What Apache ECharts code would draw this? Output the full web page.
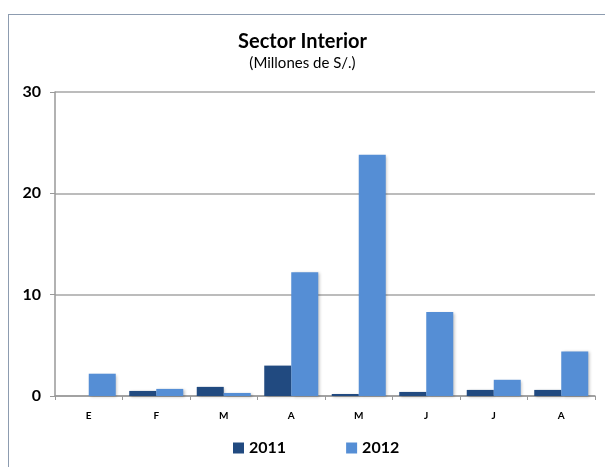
<!DOCTYPE html>
<html><head><meta charset="utf-8">
<script src="https://cdn.jsdelivr.net/npm/echarts@6/dist/echarts.min.js"></script>
<style>
html,body{margin:0;padding:0;background:#fff;}
#frame{position:absolute;left:8px;top:14px;width:700px;height:600px;border:1.5px solid #8d9cb0;box-sizing:border-box;}
#c{position:absolute;left:0;top:0;width:605px;height:467px;}
</style></head>
<body><div id="frame"></div><div id="c"></div>
<script>
const categories = ['E','F','M','A','M','J','J','A'];
const s2011 = [0, 0.5, 0.9, 3.0, 0.2, 0.4, 0.6, 0.6];
const s2012 = [2.2, 0.7, 0.3, 12.2, 23.8, 8.3, 1.6, 4.4];
const yTicks = [0, 10, 20, 30];
const chart = echarts.init(document.getElementById('c'), null, {renderer:'canvas'});
const font = 'Lato, "Liberation Sans", sans-serif';
const shadow = {shadowColor:'rgba(0,0,0,0.25)', shadowBlur:3, shadowOffsetX:1.5, shadowOffsetY:1};
chart.setOption({
  animation:false,
  title:{text:'Sector Interior', subtext:'(Millones de S/.)', left:'center', top:27, itemGap:4,
    textStyle:{fontFamily:font, fontSize:20, fontWeight:'bold', color:'#000'},
    subtextStyle:{fontFamily:font, fontSize:15, color:'#000'}},
  grid:{left:55, right:10, top:92, bottom:71},
  legend:{bottom:6, left:228, itemGap:60, itemWidth:11, itemHeight:11, icon:'rect',
    textStyle:{fontFamily:font, fontSize:16, fontWeight:'bold', color:'#000'},
    data:['2011','2012']},
  xAxis:{type:'category', data:categories,
    axisLine:{lineStyle:{color:'#999', width:1.5}},
    axisTick:{show:true, length:4, lineStyle:{color:'#999'}},
    axisLabel:{fontFamily:font, fontSize:10, fontWeight:'bold', color:'#000', margin:15}},
  yAxis:{type:'value', min:0, max:30, interval:10,
    axisLine:{show:true, lineStyle:{color:'#999', width:1.5}},
    axisTick:{show:true, length:5, lineStyle:{color:'#999'}},
    splitLine:{lineStyle:{color:'#a6a6a6', width:1.5}},
    axisLabel:{fontFamily:font, fontSize:16, fontWeight:'bold', color:'#000', margin:14,
      formatter: v => yTicks.includes(v) ? String(v) : ''}},
  series:[
    {name:'2011', type:'bar', data:s2011, barGap:'0%', barCategoryGap:'20%',
      itemStyle:Object.assign({color:'#214a80'}, shadow)},
    {name:'2012', type:'bar', data:s2012, barGap:'0%', barCategoryGap:'20%',
      itemStyle:Object.assign({color:'#558ed5'}, shadow)}
  ]
});
</script></body></html>
